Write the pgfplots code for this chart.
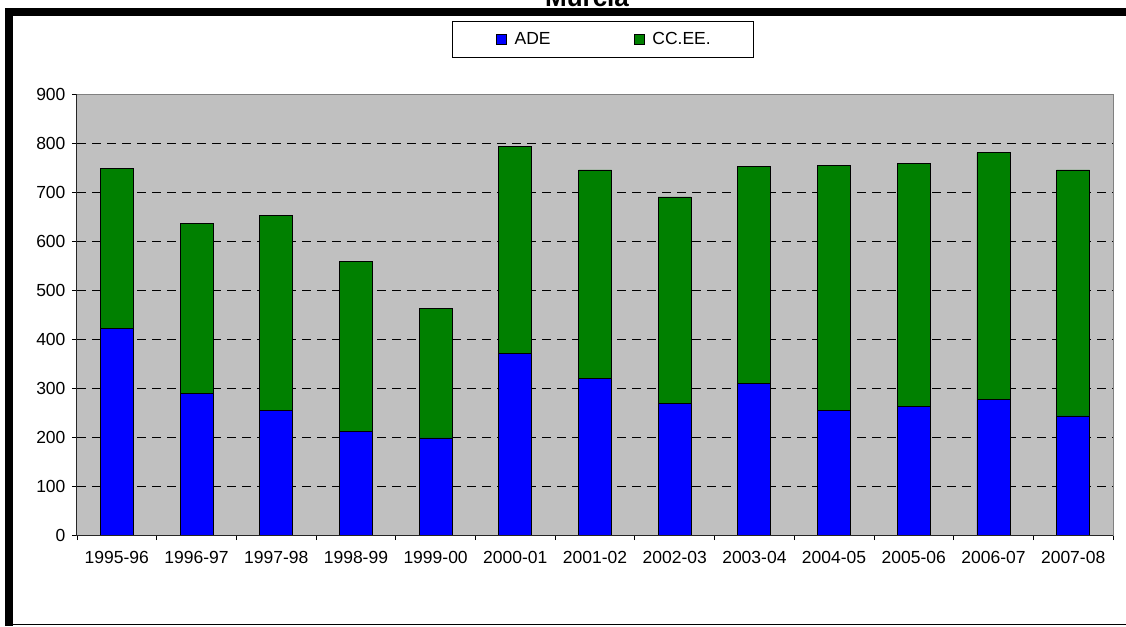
\documentclass[border=0pt]{standalone}
\usepackage{fontspec}
\setmainfont{Liberation Sans}
\usepackage{pgfplots}
\usepackage{pgfplotstable}
\pgfplotsset{compat=1.18}
\definecolor{adeblue}{HTML}{0000FF}
\definecolor{ccgreen}{HTML}{008000}
\definecolor{plotgray}{HTML}{C0C0C0}
\definecolor{bordergray}{HTML}{808080}

\pgfplotstableread{
x ade ccee
0 422 326
1 288 347
2 254 399
3 212 347
4 198 265
5 370 423
6 319 426
7 268 422
8 309 443
9 254 501
10 263 496
11 277 503
12 243 502
}\datatable

\begin{document}
\begin{tikzpicture}[x=1pt,y=1pt]
\useasboundingbox (0,0) rectangle (1126,626);
\fill[white] (0,0) rectangle (1126,626);
\node[font=\fontsize{26}{30}\selectfont\bfseries, anchor=base, inner sep=0pt] at (587,619) {Murcia};
\fill[black] (5,610) rectangle (1126,618);
\fill[black] (5,0) rectangle (13,618);
\draw[black, line width=1.5pt] (5,1.5) -- (1126,1.5);
\begin{axis}[
  at={(77pt,91pt)}, anchor=south west,
  scale only axis, width=1036pt, height=441pt,
  ybar stacked, bar width=33pt,
  xmin=-0.5, xmax=12.5, ymin=0, ymax=900,
  xtick pos=bottom, ytick pos=left,
  ytick={0,100,...,800},
  extra y ticks={900},
  extra y tick style={grid=none},
  xtick={-0.5,0.5,...,12.5}, xticklabels={},
  extra x ticks={0,1,...,12},
  extra x tick labels={1995-96,1996-97,1997-98,1998-99,1999-00,2000-01,2001-02,2002-03,2003-04,2004-05,2005-06,2006-07,2007-08},
  extra x tick style={major tick length=0pt, grid=none,
     xticklabel style={yshift=-13pt}},
  tick align=outside, major tick length=5pt,
  tick style={black, line width=0.8pt},
  ymajorgrids,
  grid style={black, line width=0.8pt, dash pattern=on 9pt off 6pt},
  axis background/.style={fill=plotgray},
  axis line style={bordergray, line width=1pt},
  /pgf/number format/assume math mode=true,
  ticklabel style={font=\fontsize{17.5}{20}\selectfont},
  yticklabel style={xshift=-3pt},
  legend columns=2,
  legend style={at={(0.508,1.166)}, anchor=north, draw=black, line width=0.8pt,
     fill=white, font=\fontsize{17.5}{20}\selectfont,
     inner xsep=43pt, inner ysep=11pt, nodes={inner sep=0pt},
     /tikz/every odd column/.append style={column sep=8pt},
     /tikz/every even column/.append style={column sep=83pt}},
  after end axis/.code={
     \draw[black!85, line width=1pt] (rel axis cs:0,1) -- (rel axis cs:0,0) -- (rel axis cs:1,0);
  },
]
\addplot[fill=adeblue, draw=black, line width=0.8pt,
  legend image code/.code={\draw[fill=adeblue, draw=black, line width=0.8pt] (0pt,-5pt) rectangle (10pt,5pt);}]
  table[x=x, y=ade]{\datatable};
\addplot[fill=ccgreen, draw=black, line width=0.8pt,
  legend image code/.code={\draw[fill=ccgreen, draw=black, line width=0.8pt] (0pt,-5pt) rectangle (10pt,5pt);}]
  table[x=x, y=ccee]{\datatable};
\legend{ADE, CC.EE.}
\end{axis}
\end{tikzpicture}
\end{document}
